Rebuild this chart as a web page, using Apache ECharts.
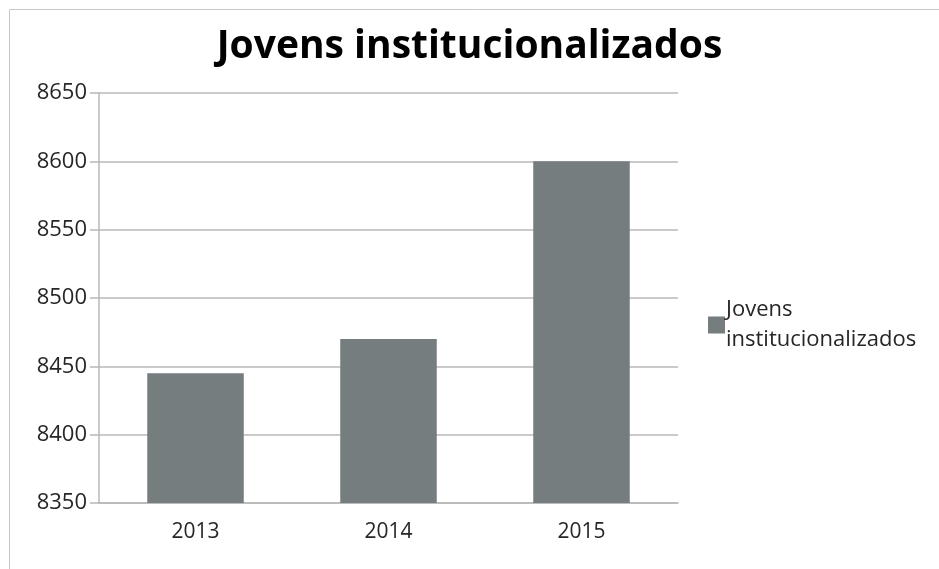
<!DOCTYPE html>
<html>
<head>
<meta charset="utf-8">
<script src="https://cdn.jsdelivr.net/npm/echarts@6/dist/echarts.min.js"></script>
<style>
  html, body { margin: 0; padding: 0; background: #fff; }
  #chart { width: 939px; height: 569px; }
</style>
</head>
<body>
<div id="chart"></div>
<script>
// data
var titleText = 'Jovens institucionalizados'
var seriesName = 'Jovens institucionalizados'
var years = ['2013', '2014', '2015']
var values = [8445, 8470, 8600]
var yMin = 8350
var yMax = 8650
var yStep = 50

var chart = echarts.init(document.getElementById('chart'))
chart.setOption({
  animation: false,
  textStyle: { fontFamily: 'Open Sans' },
  title: {
    text: titleText,
    left: 'center',
    top: 22,
    textStyle: { fontSize: 39, fontWeight: 'bold', color: '#000', fontFamily: 'Open Sans' }
  },
  graphic: [{
    type: 'rect',
    shape: { x: 9.5, y: 9.5, width: 1000, height: 1000 },
    style: { fill: 'none', stroke: '#c8c8c8', lineWidth: 1 },
    silent: true
  }],
  legend: {
    left: 703,
    top: 290,
    orient: 'vertical',
    itemWidth: 17,
    itemHeight: 17,
    itemGap: 6,
    icon: 'rect',
    formatter: function () { return 'Jovens\ninstitucionalizados' },
    textStyle: { fontSize: 22, color: '#262626', lineHeight: 30, padding: [0, 0, 0, -4] },
    data: [seriesName]
  },
  grid: { left: 99, right: 261, top: 93, bottom: 66 },
  xAxis: {
    type: 'category',
    data: years,
    axisLine: { lineStyle: { color: '#b8b8b8', width: 1.5 } },
    axisTick: { length: 9, lineStyle: { color: '#b8b8b8', width: 1.5 } },
    axisLabel: { fontSize: 21, color: '#262626', margin: 19 }
  },
  yAxis: {
    type: 'value',
    min: yMin,
    max: yMax,
    interval: yStep,
    axisLine: { show: true, lineStyle: { color: '#b8b8b8', width: 1.5 } },
    axisTick: { show: true, length: 9, lineStyle: { color: '#b8b8b8', width: 1.5 } },
    splitLine: { lineStyle: { color: '#b8b8b8', width: 1.5 } },
    axisLabel: { fontSize: 22, color: '#262626', margin: 12, formatter: function (v) { return String(v) } }
  },
  series: [{
    name: seriesName,
    type: 'bar',
    data: values,
    barWidth: '50%',
    itemStyle: { color: '#757d7f' }
  }]
})
</script>
</body>
</html>
